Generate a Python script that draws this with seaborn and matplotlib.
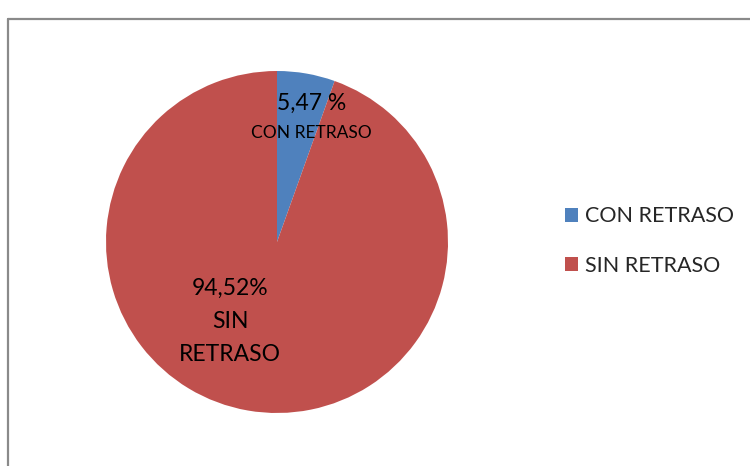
import matplotlib
matplotlib.use("Agg")
import matplotlib.pyplot as plt
import seaborn as sns
from matplotlib.lines import Line2D
from matplotlib.patches import Patch

categories = ["CON RETRASO", "SIN RETRASO"]
values = [5.47, 94.52]
value_labels = ["5,47 %", "94,52%"]
colors = ["#4F81BD", "#C0504D"]

sns.set_theme(style="white")
plt.rcParams["font.family"] = ["Lato", "DejaVu Sans"]

fig = plt.figure(figsize=(7.5, 4.66), dpi=100)
ax = fig.add_axes([106 / 750, 1 - 413 / 466, 342 / 750, 342 / 466])
ax.pie(values, colors=colors, startangle=90, counterclock=False, radius=1,
       wedgeprops={"edgecolor": "none", "linewidth": 0})
ax.set_xlim(-1, 1)
ax.set_ylim(-1, 1)
ax.set_aspect("equal")
ax.axis("off")

# slice labels
ax.text(0.2, 0.81, value_labels[0], ha="center", va="center", fontsize=16.5, color="black")
ax.text(0.2, 0.64, categories[0], ha="center", va="center", fontsize=12.5, color="black")
ax.text(-0.275, -0.27, value_labels[1], ha="center", va="center", fontsize=16.5, color="black")
sin_word, ret_word = categories[1].split(" ")
ax.text(-0.275, -0.465, sin_word, ha="center", va="center", fontsize=16.5, color="black")
ax.text(-0.275, -0.66, ret_word, ha="center", va="center", fontsize=16.5, color="black")

handles = [Patch(facecolor=c, edgecolor="none") for c in colors]
fig.legend(handles, categories, loc="center left", bbox_to_anchor=(554 / 750, 1 - 241 / 466),
           frameon=False, fontsize=15.5, handlelength=0.6, handleheight=0.6,
           handletextpad=0.35, labelspacing=1.35, borderpad=0)

# chart frame
frame_color = "#8a8a8a"
fig.add_artist(Line2D([8 / 750, 8 / 750], [0, 1 - 19 / 466], color=frame_color, lw=1.6,
                      transform=fig.transFigure))
fig.add_artist(Line2D([8 / 750, 1], [1 - 19 / 466, 1 - 19 / 466], color=frame_color, lw=1.6,
                      transform=fig.transFigure))

fig.savefig("out.png", dpi=100, facecolor="white")
